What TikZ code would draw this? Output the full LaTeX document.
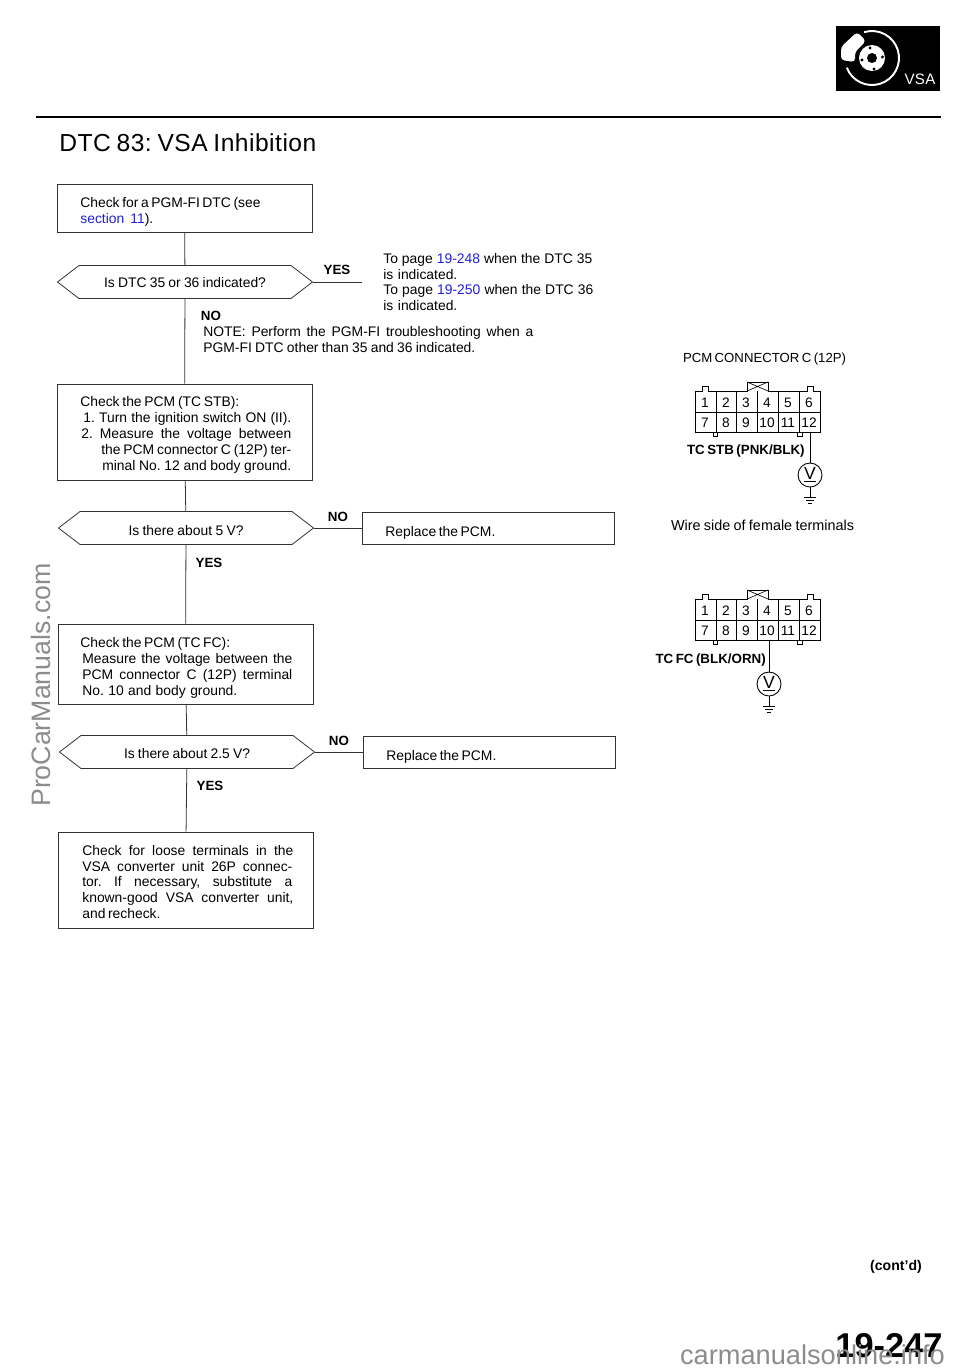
\documentclass[tikz,border=0pt]{standalone}
\usepackage{fontspec}
\setmainfont{Liberation Sans}
\usetikzlibrary{shapes.symbols}

\newdimen\pxu
\pxu=0.02cm
\newcommand{\fitline}[2]{\makebox[#1\pxu][s]{#2}}
\definecolor{linkblue}{RGB}{32,32,215}
\definecolor{markgray}{RGB}{140,140,140}
\definecolor{rulegray}{RGB}{50,50,50}

\tikzset{
  x=0.02cm, y=-0.02cm,
  chkbox/.style={draw=rulegray, line width=0.45pt, inner sep=0pt, minimum width=255\pxu},
  qhex/.style={draw=rulegray, line width=0.45pt, signal, signal to=west and east, signal pointer angle=75,
    inner sep=0pt, minimum width=255\pxu, minimum height=33\pxu, font=\fontsize{7.9}{9.07}\selectfont},
  flow/.style={draw=rulegray, line width=0.45pt},
  txt/.style={anchor=west, inner sep=0pt, align=left, font=\fontsize{7.9}{9.07}\selectfont},
  tag/.style={inner sep=0pt, font=\fontsize{7.6}{9}\selectfont\bfseries},
  pin/.style={inner sep=0pt, font=\fontsize{7.8}{9}\selectfont},
  wire/.style={line width=0.5pt},
  meter/.style={draw, circle, line width=0.5pt, inner sep=0pt, minimum size=24\pxu, font=\fontsize{10}{10}\selectfont},
  conn/.pic={
    \draw[line width=0.45pt] (0,0) -- (7,0) -- (7,-5) -- (13,-5) -- (13,0) -- (52,0) -- (52,-9) -- (73,-9) -- (73,0)
      -- (112,0) -- (112,-5) -- (118,-5) -- (118,0) -- (125,0) -- (125,41) -- (0,41) -- cycle;
    \draw[line width=0.35pt] (52,-9) -- (73,0) (73,-9) -- (52,0);
    \draw[line width=0.4pt] (0,21) -- (125,21);
    \draw[line width=0.4pt] (21,0) -- (21,41) (41,0) -- (41,41) (62,0) -- (62,41)
      (83,0) -- (83,41) (104,0) -- (104,41);
    \draw[line width=0.4pt] (18,41) -- (18,45) -- (22,45) -- (22,41);
    \draw[line width=0.4pt] (102,41) -- (102,45) -- (107,45) -- (107,41);
    \node[pin] (-p1)  at (10,12) {1};
    \node[pin] (-p2)  at (31,12) {2};
    \node[pin] (-p3)  at (51,12) {3};
    \node[pin] (-p4)  at (72,12) {4};
    \node[pin] (-p5)  at (93,12) {5};
    \node[pin] (-p6)  at (114,12) {6};
    \node[pin] (-p7)  at (10,32) {7};
    \node[pin] (-p8)  at (31,32) {8};
    \node[pin] (-p9)  at (51,32) {9};
    \node[pin] (-p10) at (72,32) {10};
    \node[pin] (-p11) at (93,32) {11};
    \node[pin] (-p12) at (114,32) {12};
    \coordinate (-w10) at (74,41);
    \coordinate (-w12) at (115,41);
  }
}

\begin{document}
\frenchspacing
\begin{tikzpicture}
\useasboundingbox (0,0) rectangle (960,1370);

%% header
\draw[line width=1.4pt] (36,117) -- (941,117);
\node[anchor=west, inner sep=0pt, font=\fontsize{14}{16}\selectfont] (title) at (59,143) {\addfontfeature{LetterSpace=2}\fitline{257}{DTC 83: VSA Inhibition}};

%% VSA badge
\fill[black] (836,26) rectangle (940,91);
\draw[white, line width=1.1pt] (872,58) ++(-107:27) arc (-107:159:27);
\fill[white, rounded corners=2pt] (857,32) -- (866,41) -- (855,52) -- (855,62) -- (841,60) -- (841,47) -- cycle;
\fill[white] (872,58) circle (13);
\fill[black] (872,58) circle (5);
\fill[black] (870,48) circle (1.6) (882.5,57) circle (1.6) (874,69) circle (1.6) (862,60) circle (1.6);
\node[inner sep=0pt, text=white, font=\fontsize{8.6}{9}\selectfont] (vsa) at (920,79) {\makebox[31\pxu][s]{V\hfill S\hfill A}};

%% boxes
\node[chkbox, minimum height=48\pxu] (chk1) at (184.5,208) {};
\node[chkbox, minimum height=96\pxu] (chk2) at (184.5,432) {};
\node[chkbox, minimum height=80\pxu] (chk3) at (185.5,664) {};
\node[chkbox, minimum height=96\pxu] (chk4) at (185.5,880) {};
\node[chkbox, minimum width=252\pxu, minimum height=32\pxu] (rep1) at (488,528) {};
\node[chkbox, minimum width=252\pxu, minimum height=32\pxu] (rep2) at (489,752) {};

%% decisions
\node[qhex] (q1) at (185,282) {\raisebox{-5\pxu}[0pt][0pt]{\fitline{162}{Is DTC 35 or 36 indicated?}}};
\node[qhex] (q2) at (186,528) {\raisebox{-7\pxu}[0pt][0pt]{\fitline{115}{Is there about 5 V?}}};
\node[qhex] (q3) at (187,752) {\raisebox{-6\pxu}[0pt][0pt]{\fitline{126}{Is there about 2.5 V?}}};

%% box texts
\node[txt] (chk1txt) at (80,212) {\fitline{180}{Check for a PGM-FI DTC (see}\\
  \fitline{73}{{\color{linkblue}section 11}).}};
\node[txt] (chk2txt) at (80,435) {\fitline{159}{Check the PCM (TC STB):}\\
  \hspace*{3\pxu}\fitline{208}{1. Turn the ignition switch ON (II).}\\
  \hspace*{1\pxu}\fitline{210}{2. Measure the voltage between}\\
  \hspace*{21\pxu}\fitline{190}{the PCM connector C (12P) ter-}\\
  \hspace*{22\pxu}\fitline{189}{minal No. 12 and body ground.}};
\node[txt] (chk3txt) at (80,668) {\fitline{149}{Check the PCM (TC FC):}\\
  \hspace*{2\pxu}\fitline{210}{Measure the voltage between the}\\
  \hspace*{2\pxu}\fitline{210}{PCM connector C (12P) terminal}\\
  \hspace*{2\pxu}\fitline{155}{No. 10 and body ground.}};
\node[txt] (chk4txt) at (82,882) {\fitline{211}{Check for loose terminals in the}\\
  \fitline{210}{VSA converter unit 26P connec-}\\
  \fitline{210}{tor. If necessary, substitute a}\\
  \fitline{211}{known-good VSA converter unit,}\\
  \fitline{78}{and recheck.}};
\node[txt] (rep1txt) at (385,533) {\fitline{108}{Replace the PCM.}};
\node[txt] (rep2txt) at (386,757) {\fitline{108}{Replace the PCM.}};

%% side notes
\node[txt] (page1) at (383,282) {\fitline{209}{To page {\color{linkblue}19-248} when the DTC 35}\\
  \fitline{74}{is indicated.}\\
  \fitline{210}{To page {\color{linkblue}19-250} when the DTC 36}\\
  \fitline{74}{is indicated.}};
\node[txt] (note1) at (203,339.5) {\fitline{330}{NOTE: Perform the PGM-FI troubleshooting when a}\\
  \fitline{272}{PGM-FI DTC other than 35 and 36 indicated.}};

%% free ends
\coordinate (yes1) at (362,282);

%% connectors
\draw[flow] (chk1) -- (q1);
\draw[flow] (q1) -- (chk2);
\draw[flow] (chk2) -- (q2);
\draw[flow] (q2) -- (chk3);
\draw[flow] (chk3) -- (q3);
\draw[flow] (q3) -- (chk4);
\draw[flow] (q1.east) -- (yes1);
\draw[flow] (q2.east) -- (rep1.west);
\draw[flow] (q3.east) -- (rep2.west);

%% yes / no tags
\node[tag] (yes1tag) at (337,270) {YES};
\node[tag] (no1tag)  at (211,316) {NO};
\node[tag] (no2tag)  at (338,517) {NO};
\node[tag] (yes2tag) at (209,563) {YES};
\node[tag] (no3tag)  at (339,741) {NO};
\node[tag] (yes3tag) at (210,786) {YES};

%% pcm connector c, upper
\node[inner sep=0pt, font=\fontsize{7.5}{9}\selectfont] (cona) at (764.5,359) {\fitline{163}{PCM CONNECTOR C (12P)}};
\pic (pa) at (695,391) {conn};
\node[tag] (stb) at (745,451) {\fitline{116}{TC STB (PNK/BLK)}};
\node[meter] (ma) at (810,475) {\underline{V}};
\coordinate (ga) at (810,497);
\draw[wire] (pa-w12) -- (ma);
\draw[wire] (ma) -- (ga);
\draw[line width=0.4pt] (ga) ++(-6,0) -- ++(12,0) (ga) ++(-4,3) -- ++(8,0) (ga) ++(-2,6) -- ++(4,0);
\node[inner sep=0pt, font=\fontsize{8.2}{9}\selectfont] (wside) at (762.5,525) {\fitline{183}{Wire side of female terminals}};

%% pcm connector c, lower
\pic (pb) at (695,599) {conn};
\node[tag] (tcfc) at (709.5,660) {\fitline{108}{TC FC (BLK/ORN)}};
\node[meter] (mb) at (769,684) {\underline{V}};
\coordinate (gb) at (769,706);
\draw[wire] (pb-w10) -- (mb);
\draw[wire] (mb) -- (gb);
\draw[line width=0.4pt] (gb) ++(-6,0) -- ++(12,0) (gb) ++(-4,3) -- ++(8,0) (gb) ++(-2,6) -- ++(4,0);

%% page foot
\node[inner sep=0pt, font=\fontsize{8}{9}\selectfont\bfseries] (contd) at (896,1267) {(cont'd)};
\node[inner sep=0pt, anchor=base east, font=\fontsize{19.6}{20}\selectfont\bfseries] (pageno) at (943,1357) {19-247};

%% watermarks
\node[inner sep=0pt, text=markgray, anchor=base, font=\fontsize{15.5}{16}\selectfont] (markb) at (812.5,1364) {\fitline{265}{carmanualsonline.info}};
\node[inner sep=0pt, text=markgray, rotate=90, font=\fontsize{15.2}{16}\selectfont] (markl) at (41,685) {ProCarManuals.com};
\end{tikzpicture}
\end{document}
